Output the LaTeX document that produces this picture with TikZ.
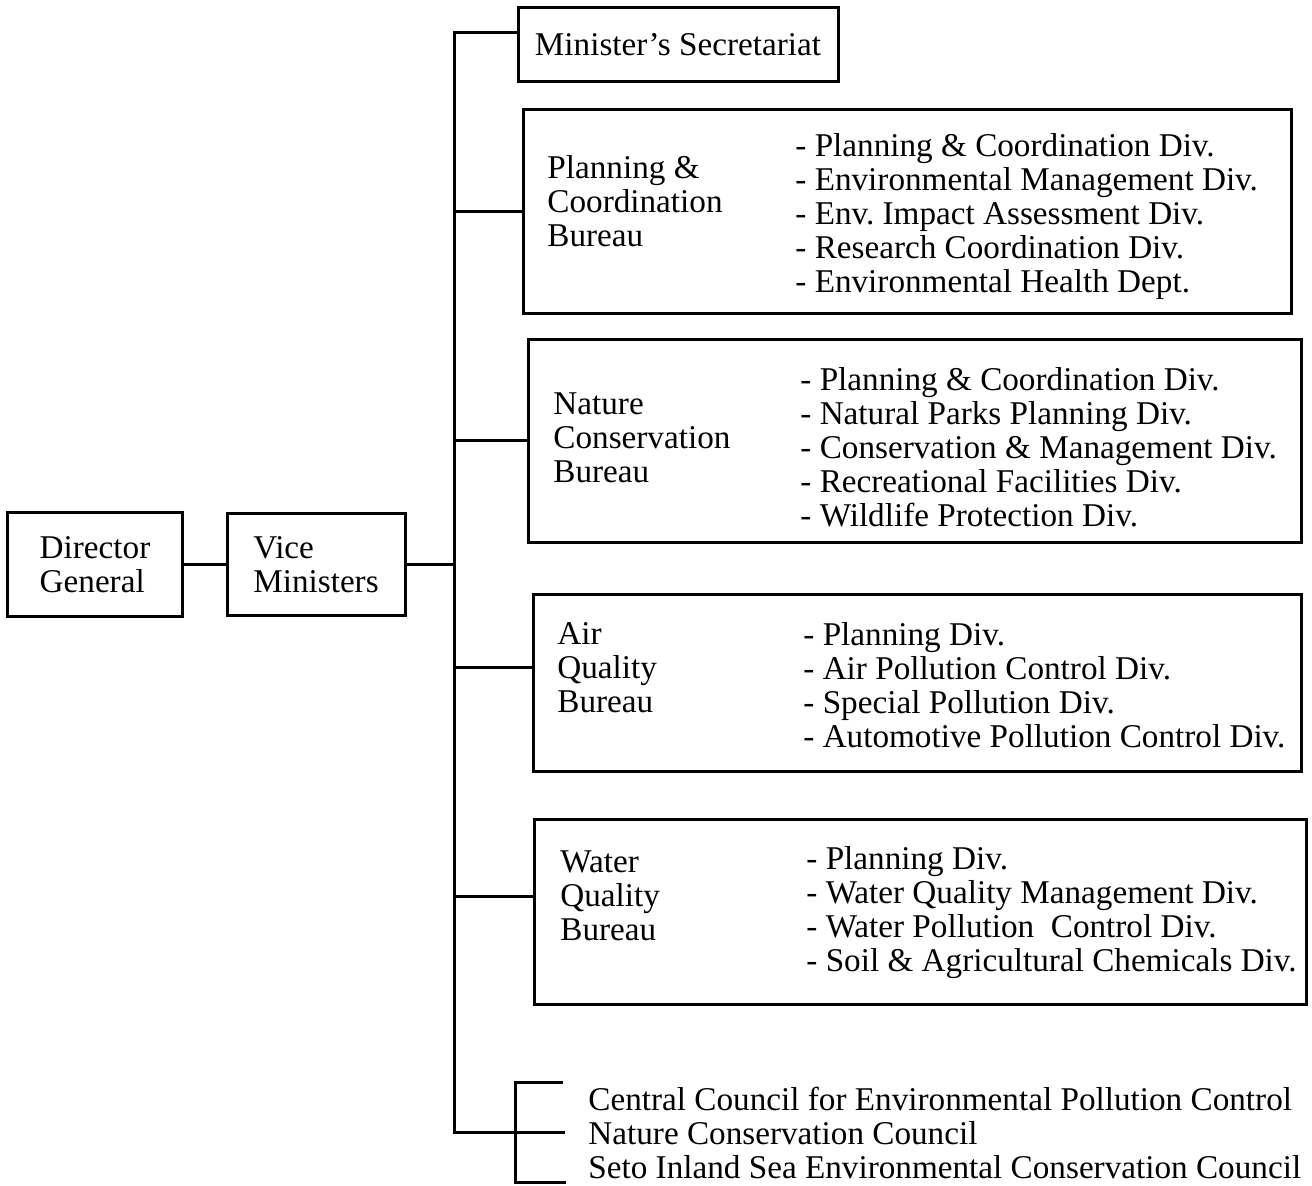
\documentclass[tikz,border=0pt]{standalone}
\usepackage{fontspec}
\setmainfont{Liberation Serif}
\usetikzlibrary{positioning}
\frenchspacing

\tikzset{
  orgbox/.style={draw, line width=1.5pt, inner sep=0pt, align=left},
  orgtext/.style={inner sep=0pt, align=left, anchor=west},
  orgline/.style={line width=1.5pt},
}

\begin{document}
\begin{tikzpicture}[x=0.5pt, y=-0.5pt, every node/.style={font=\fontsize{16.6}{17}\selectfont}]
  \useasboundingbox (0,0) rectangle (1312,1186);
  % head of the agency
  \node[orgbox, minimum width=87.5pt, minimum height=52pt] (dg) at (95,565) {Director\\General};
  \node[orgbox, minimum width=89pt, minimum height=51pt] (vm) at (316,565) {Vice\\Ministers};
  \node[orgbox, minimum width=160pt, minimum height=37pt] (sec) at (678,45) {Minister's Secretariat};

  % bureau frames
  \node[orgbox, anchor=north west, minimum width=384pt, minimum height=102pt] (pcb) at (522,108) {};
  \node[orgbox, anchor=north west, minimum width=386.5pt, minimum height=101.5pt] (ncb) at (527,338) {};
  \node[orgbox, anchor=north west, minimum width=384pt, minimum height=88.5pt] (aqb) at (532,593) {};
  \node[orgbox, anchor=north west, minimum width=386pt, minimum height=92.5pt] (wqb) at (533,818) {};

  % bureau names
  \node[orgtext] (pcbname) at (547,201) {Planning \&\\Coordination\\Bureau};
  \node[orgtext] (ncbname) at (553,438) {Nature\\Conservation\\Bureau};
  \node[orgtext] (aqbname) at (557,668) {Air\\Quality\\Bureau};
  \node[orgtext] (wqbname) at (560,896) {Water\\Quality\\Bureau};

  % divisions
  \node[orgtext] (pcbdiv) at (795,217) {- Planning \& Coordination Div.\\- Environmental Management Div.\\- Env. Impact Assessment Div.\\- Research Coordination Div.\\- Environmental Health Dept.};
  \node[orgtext] (ncbdiv) at (800,447) {- Planning \& Coordination Div.\\- Natural Parks Planning Div.\\- Conservation \& Management Div.\\- Recreational Facilities Div.\\- Wildlife Protection Div.};
  \node[orgtext] (aqbdiv) at (803,685) {- Planning Div.\\- Air Pollution Control Div.\\- Special Pollution Div.\\- Automotive Pollution Control Div.};
  \node[orgtext] (wqbdiv) at (806,913) {- Planning Div.\\- Water Quality Management Div.\\- Water Pollution\ \ Control Div.\\- Soil \& Agricultural Chemicals Div.};

  % councils
  \node[orgtext] (cnc) at (588,1133) {Central Council for Environmental Pollution Control\\Nature Conservation Council\\Seto Inland Sea Environmental Conservation Council};

  % trunk and branches
  \coordinate (ttop) at (454,33);
  \coordinate (tbot) at (454,1132);
  \coordinate (bk) at (515,1132);
  \coordinate (ct) at (563,1082);
  \coordinate (cm) at (565,1132);
  \coordinate (cb) at (566,1182);
  \draw[orgline] (dg) -- (vm);
  \draw[orgline] (vm.east) -- (vm.east -| ttop);
  \draw[orgline] (sec.west |- ttop) -- (ttop) -- (tbot) -- (cm);
  \draw[orgline] (pcb.west) -- (pcb.west -| ttop);
  \draw[orgline] (ncb.west) -- (ncb.west -| ttop);
  \draw[orgline] (aqbname.west -| aqb.west) -- (aqbname.west -| ttop);
  \draw[orgline] (wqbname.west -| wqb.west) -- (wqbname.west -| ttop);
  \draw[orgline] (ct) -- (ct -| bk) -- (cb -| bk) -- (cb);
\end{tikzpicture}
\end{document}
